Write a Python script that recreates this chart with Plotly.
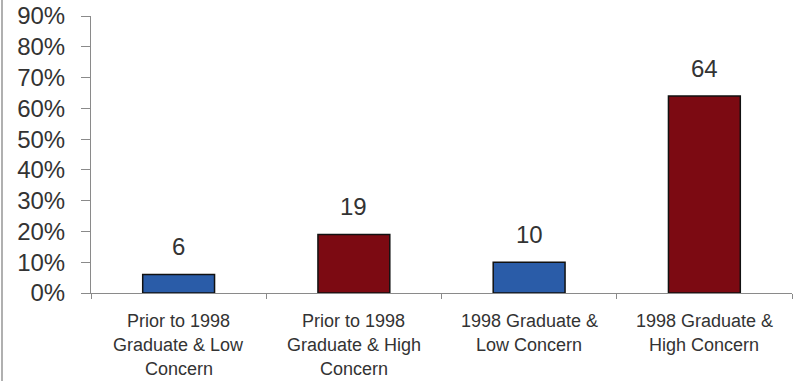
import plotly.graph_objects as go

# Survey result: share of respondents per graduation group / concern level
categories = [
    "Prior to 1998 Graduate & Low Concern",
    "Prior to 1998 Graduate & High Concern",
    "1998 Graduate & Low Concern",
    "1998 Graduate & High Concern",
]
category_lines = [
    ["Prior to 1998", "Graduate & Low", "Concern"],
    ["Prior to 1998", "Graduate & High", "Concern"],
    ["1998 Graduate &", "Low Concern"],
    ["1998 Graduate &", "High Concern"],
]
values = [6, 19, 10, 64]
bar_colors = ["#2a5ca8", "#7c0a12", "#2a5ca8", "#7c0a12"]
y_ticks = [0, 10, 20, 30, 40, 50, 60, 70, 80, 90]
y_tick_text = [f"{t}%" for t in y_ticks]

FONT = "Liberation Sans, Arial, sans-serif"
TEXT = "#333333"
AXIS = "#8a8a8a"

fig = go.Figure(
    go.Bar(
        x=categories,
        y=values,
        width=0.41,
        marker=dict(color=bar_colors, line=dict(color="#111111", width=1.5)),
        hoverinfo="skip",
    )
)

annotations = []
# value labels above bars
for cat, v in zip(categories, values):
    annotations.append(dict(
        x=cat, y=v, xref="x", yref="y", text=str(v), showarrow=False,
        yanchor="middle", yshift=28, font=dict(family=FONT, size=24, color=TEXT),
    ))
# multi-line category labels under the axis
for cat, lines in zip(categories, category_lines):
    for i, line in enumerate(lines):
        annotations.append(dict(
            x=cat, y=0, xref="x", yref="paper", text=line, showarrow=False,
            yanchor="middle", yshift=-28 - 24 * i,
            font=dict(family=FONT, size=18, color=TEXT),
        ))

fig.update_layout(
    width=795, height=381,
    margin=dict(l=91, r=3, t=16, b=88),
    paper_bgcolor="white", plot_bgcolor="white",
    showlegend=False,
    bargap=0.59,
    annotations=annotations,
    shapes=[dict(type="line", xref="paper", yref="paper", x0=-89 / 701, x1=-89 / 701,
                 y0=-1, y1=2, line=dict(color="#b0b0b0", width=2))],
    xaxis=dict(
        showticklabels=False, showgrid=False, zeroline=False,
        showline=True, linecolor=AXIS, linewidth=1,
        ticks="outside", ticklen=5, tickcolor=AXIS, tickson="boundaries",
        range=[-0.5, 3.5],
    ),
    yaxis=dict(
        range=[0, 90], tickvals=y_ticks, ticktext=y_tick_text,
        showgrid=False, zeroline=False,
        showline=True, linecolor=AXIS, linewidth=1,
        ticks="outside", ticklen=9, tickcolor=AXIS, ticklabelstandoff=11,
        tickfont=dict(family=FONT, size=24, color=TEXT),
    ),
)

fig.write_html("out.html")
